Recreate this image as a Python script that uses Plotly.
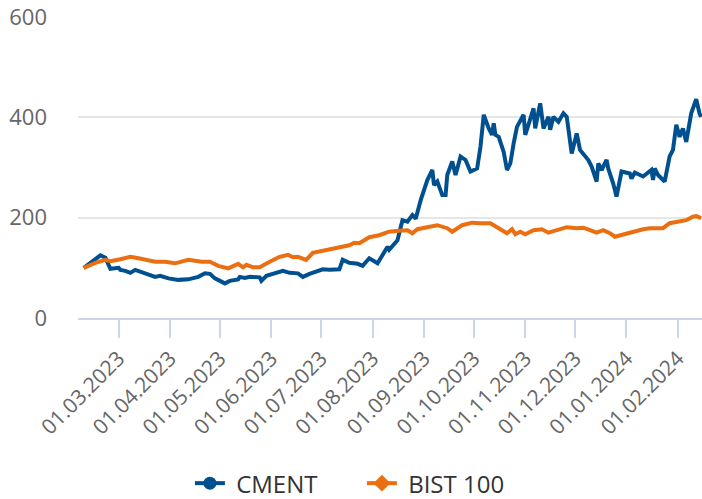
import plotly.graph_objects as go

cment_dates = [
    "2023-02-08", "2023-02-17", "2023-02-18", "2023-02-21", "2023-02-24", "2023-03-01",
    "2023-03-02", "2023-03-05", "2023-03-08", "2023-03-11", "2023-03-14", "2023-03-20",
    "2023-03-23", "2023-03-26", "2023-03-31", "2023-04-06", "2023-04-12", "2023-04-18",
    "2023-04-22", "2023-04-25", "2023-04-28", "2023-05-04", "2023-05-07", "2023-05-12",
    "2023-05-13", "2023-05-16", "2023-05-19", "2023-05-25", "2023-05-26", "2023-05-29",
    "2023-06-02", "2023-06-08", "2023-06-12", "2023-06-17", "2023-06-20", "2023-06-24",
    "2023-07-02", "2023-07-06", "2023-07-12", "2023-07-14", "2023-07-18", "2023-07-23",
    "2023-07-26", "2023-07-30", "2023-08-04", "2023-08-07", "2023-08-10", "2023-08-11",
    "2023-08-16", "2023-08-19", "2023-08-22", "2023-08-25", "2023-08-27", "2023-08-30",
    "2023-09-03", "2023-09-06", "2023-09-07", "2023-09-09", "2023-09-12", "2023-09-14",
    "2023-09-15", "2023-09-18", "2023-09-20", "2023-09-23", "2023-09-26", "2023-09-29",
    "2023-10-03", "2023-10-05", "2023-10-07", "2023-10-10", "2023-10-12", "2023-10-13",
    "2023-10-14", "2023-10-16", "2023-10-19", "2023-10-21", "2023-10-23", "2023-10-25",
    "2023-10-27", "2023-10-31", "2023-11-01", "2023-11-06", "2023-11-07", "2023-11-10",
    "2023-11-12", "2023-11-15", "2023-11-16", "2023-11-18", "2023-11-21", "2023-11-24",
    "2023-11-26", "2023-11-29", "2023-12-02", "2023-12-04", "2023-12-07", "2023-12-09",
    "2023-12-11", "2023-12-14", "2023-12-15", "2023-12-17", "2023-12-20", "2023-12-21",
    "2023-12-24", "2023-12-26", "2023-12-29", "2024-01-03", "2024-01-04", "2024-01-06",
    "2024-01-11", "2024-01-16", "2024-01-17", "2024-01-18", "2024-01-20", "2024-01-24",
    "2024-01-27", "2024-01-29", "2024-01-31", "2024-02-02", "2024-02-04", "2024-02-06",
    "2024-02-09", "2024-02-12", "2024-02-14", "2024-02-15",
]
cment_values = [
    100, 122, 125, 120, 98, 100,
    96, 94, 90, 96, 92, 86,
    82, 84, 79, 76, 77, 82,
    89, 88, 79, 69, 74, 77,
    82, 80, 82, 81, 74, 84,
    88, 94, 90, 89, 82, 88,
    97, 96, 97, 116, 110, 108,
    104, 119, 109, 126, 142, 136,
    155, 195, 192, 205, 198, 235,
    275, 295, 265, 272, 245, 245,
    285, 312, 285, 322, 315, 292,
    298, 341, 405, 378, 365, 388,
    365, 361, 331, 295, 308, 348,
    381, 405, 365, 418, 378, 428,
    378, 401, 375, 401, 391, 408,
    401, 328, 368, 335, 322, 315,
    302, 272, 308, 295, 315, 298,
    268, 242, 292, 288, 278, 290,
    282, 295, 275, 298, 285, 272,
    322, 335, 385, 361, 378, 351,
    408, 436, 408, 401,
]

bist_dates = [
    "2023-02-08", "2023-02-15", "2023-02-21", "2023-02-24", "2023-03-02", "2023-03-08",
    "2023-03-13", "2023-03-17", "2023-03-23", "2023-03-29", "2023-04-04", "2023-04-12",
    "2023-04-20", "2023-04-25", "2023-04-30", "2023-05-06", "2023-05-12", "2023-05-15",
    "2023-05-17", "2023-05-21", "2023-05-25", "2023-05-31", "2023-06-06", "2023-06-11",
    "2023-06-14", "2023-06-17", "2023-06-22", "2023-06-26", "2023-07-04", "2023-07-12",
    "2023-07-18", "2023-07-21", "2023-07-24", "2023-07-27", "2023-07-30", "2023-08-05",
    "2023-08-11", "2023-08-17", "2023-08-22", "2023-08-25", "2023-08-28", "2023-09-03",
    "2023-09-09", "2023-09-15", "2023-09-18", "2023-09-24", "2023-09-30", "2023-10-05",
    "2023-10-11", "2023-10-16", "2023-10-21", "2023-10-24", "2023-10-26", "2023-10-29",
    "2023-11-01", "2023-11-06", "2023-11-11", "2023-11-15", "2023-11-20", "2023-11-26",
    "2023-12-02", "2023-12-06", "2023-12-10", "2023-12-14", "2023-12-18", "2023-12-22",
    "2023-12-25", "2023-12-30", "2024-01-03", "2024-01-07", "2024-01-11", "2024-01-15",
    "2024-01-23", "2024-01-27", "2024-02-02", "2024-02-06", "2024-02-10", "2024-02-12",
    "2024-02-15",
]
bist_values = [
    100, 110, 116, 113, 117, 122,
    119, 117, 112, 112, 109, 116,
    112, 112, 104, 99, 108, 101,
    106, 101, 101, 112, 122, 126,
    121, 122, 116, 130, 136, 141,
    145, 150, 149, 155, 161, 165,
    172, 174, 175, 169, 177, 181,
    185, 179, 172, 185, 190, 189,
    189, 179, 169, 177, 167, 172,
    167, 175, 177, 170, 175, 181,
    179, 180, 175, 170, 175, 169,
    162, 167, 169, 174, 177, 179,
    179, 189, 192, 195, 202, 203,
    199,
]

series_names = ["CMENT", "BIST 100"]
series_colors = ["#00508f", "#eb6e10"]
legend_symbols = ["circle", "diamond"]
y_ticks = [0, 200, 400, 600]
x_ticks = ["2023-03-01", "2023-04-01", "2023-05-01", "2023-06-01", "2023-07-01",
           "2023-08-01", "2023-09-01", "2023-10-01", "2023-11-01", "2023-12-01",
           "2024-01-01", "2024-02-01"]

fig = go.Figure()
for name, dates, vals, color in [
    (series_names[0], cment_dates, cment_values, series_colors[0]),
    (series_names[1], bist_dates, bist_values, series_colors[1]),
]:
    fig.add_trace(go.Scatter(x=dates, y=vals, mode="lines", name=name,
                             line=dict(color=color, width=4), showlegend=False))

for name, color, sym in zip(series_names, series_colors, legend_symbols):
    fig.add_trace(go.Scatter(x=[None], y=[None], mode="lines+markers", name=" " + name,
                             line=dict(color=color, width=4),
                             marker=dict(color=color, symbol=sym, size=13)))

fig.update_layout(
    width=702, height=499,
    margin=dict(l=78, r=0, t=17, b=181, autoexpand=False),
    paper_bgcolor="white", plot_bgcolor="white",
    font=dict(family="Open Sans", color="#666666", size=20),
    showlegend=True,
    legend=dict(orientation="h", x=0.455, xanchor="center", y=-0.55, yanchor="middle",
                font=dict(size=24, color="#333333"), entrywidth=127),
)
fig.update_xaxes(
    type="date", range=["2023-02-04 12:00", "2024-02-15 12:00"],
    tickvals=x_ticks, tickformat="%d.%m.%Y", tickangle=-45,
    ticks="outside", ticklen=18, tickwidth=2, tickcolor="#ccd6eb",
    showline=True, linecolor="#ccd6eb", linewidth=2, automargin=False,
    showgrid=False, zeroline=False, tickfont=dict(size=21, color="#666666"),
)
fig.update_yaxes(
    range=[0, 600], tickvals=y_ticks, showgrid=True, gridcolor="#e6e6e6", gridwidth=2,
    zeroline=False, showline=False, ticks="", ticklabelstandoff=30, automargin=False,
    tickfont=dict(size=22, color="#666666"),
)

fig.write_html("out.html", config={"displayModeBar": False},
               post_script="document.body.style.margin='0';")
